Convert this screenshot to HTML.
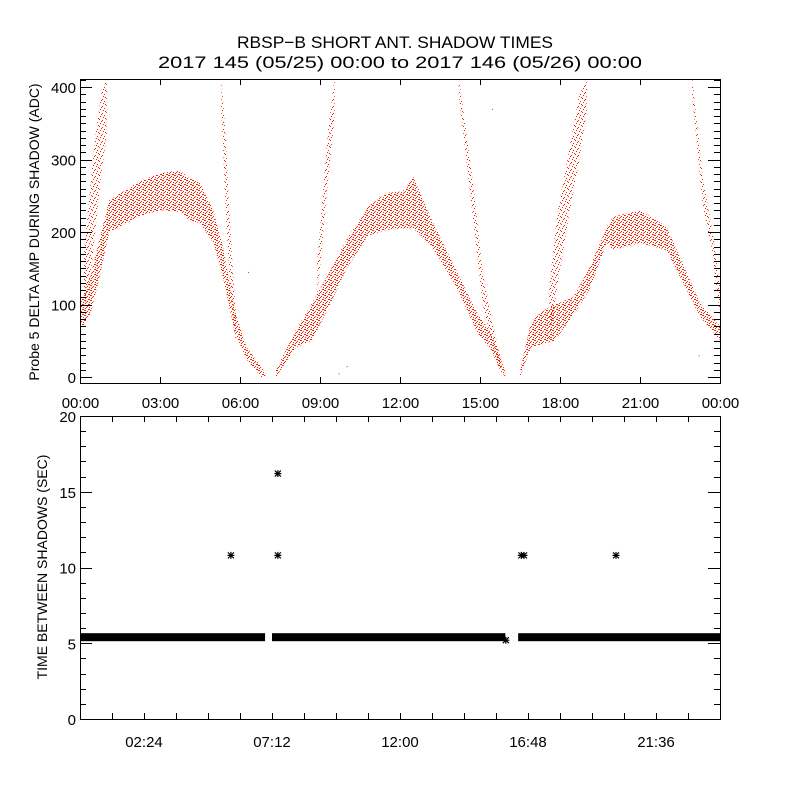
<!DOCTYPE html>
<html><head><meta charset="utf-8">
<style>
html,body{margin:0;padding:0;background:#fff;}
svg{display:block;font-family:"Liberation Sans",sans-serif;}
</style></head>
<body>
<svg id="chart" width="800" height="800" viewBox="0 0 800 800" xmlns="http://www.w3.org/2000/svg">
<defs>
<pattern id="dense" width="6" height="5" patternUnits="userSpaceOnUse">
<rect x="0" y="0" width="2" height="1" fill="#ff2000"/><rect x="3" y="1" width="1" height="1" fill="#ff2000"/>
<rect x="5" y="2" width="1" height="1" fill="#ff2000"/><rect x="1" y="3" width="1" height="1" fill="#ff2000"/>
<rect x="4" y="4" width="2" height="1" fill="#ff2000"/><rect x="2" y="2" width="1" height="1" fill="#ff2000"/>
</pattern>
<pattern id="sparse" width="7" height="7" patternUnits="userSpaceOnUse">
<rect x="1" y="0" width="1" height="1" fill="#ff2000"/><rect x="4" y="1" width="1" height="1" fill="#ff2000"/>
<rect x="6" y="3" width="1" height="1" fill="#ff2000"/><rect x="2" y="4" width="1" height="1" fill="#ff2000"/>
<rect x="5" y="5" width="1" height="1" fill="#ff2000"/><rect x="0" y="6" width="1" height="1" fill="#ff2000"/>
<rect x="3" y="2" width="1" height="1" fill="#ff2000"/>
</pattern>
<clipPath id="topclip"><rect x="80" y="79" width="640" height="304"/></clipPath>
</defs>
<text x="237" y="48" font-size="17" textLength="316" lengthAdjust="spacingAndGlyphs">RBSP−B SHORT ANT. SHADOW TIMES</text>
<text x="158" y="68" font-size="17" textLength="484" lengthAdjust="spacingAndGlyphs">2017 145 (05/25) 00:00 to 2017 146 (05/26) 00:00</text>
<g id="topPanel"></g>
<g id="botPanel"></g>
</svg>
<script>
// ---- top panel data: bands [hours], low/high ADC ----
const band1T=[0,0.4,0.75,1.1,2.25,3.0,3.75,4.1,4.5,5.0,5.36,5.8,6.25,6.8,6.95];
const band1Lo=[62,88,140,200,222,230,228,216,212,185,138,61,24,0,0];
const band1Hi=[100,140,193,244,270,281,285,274,268,230,180,92,41,14,5];
const band2T=[7.35,8.1,8.7,9.4,10.0,10.8,11.5,12.1,12.5,13.2,14.1,14.9,15.4,15.75,15.95];
const band2Lo=[0,41,50,102,150,195,203,205,205,180,125,61,38,10,0];
const band2Hi=[10,65,102,148,190,235,254,256,276,216,148,88,62,28,8];
const band3T=[16.5,16.9,17.3,17.8,18.5,19.1,19.75,20.0,21.0,22.0,22.5,23.25,24];
const band3Lo=[0,40,45,50,85,120,185,175,185,175,138,83,51];
const band3Hi=[8,75,90,100,110,150,207,221,230,207,165,102,70];
const steep1T=[0.15,0.4,0.6,0.8,1.0];
const steep1Lo=[95,140,210,280,330];
const steep1Hi=[170,270,340,390,415];
const steep2T=[5.3,5.45,5.6,5.75,5.85];
const steep2Lo=[370,240,140,75,45];
const steep2Hi=[415,340,230,140,85];
const steep3T=[8.9,9.1,9.3,9.55];
const steep3Lo=[110,190,270,360];
const steep3Hi=[160,250,340,415];
const steep4T=[14.2,14.75,15.1,15.5,15.8];
const steep4Lo=[390,215,100,40,5];
const steep4Hi=[415,265,145,70,22];
const steep5T=[17.6,17.9,18.3,18.7,19.0];
const steep5Lo=[40,125,215,295,365];
const steep5Hi=[125,225,305,385,415];
const steep6T=[22.95,23.36,23.7,24];
const steep6Lo=[390,235,175,85];
const steep6Hi=[415,275,205,125];
const strayT=[6.3,9.7,10.0,15.45,22.4,23.2];
const strayV=[145,5,15,370,150,30];
const topYTicks=[0,100,200,300,400];
const topXLabels=["00:00","03:00","06:00","09:00","12:00","15:00","18:00","21:00","00:00"];
// ---- bottom panel data ----
const segStart=[0,7.2,16.43];
const segEnd=[6.94,15.95,24];
const segValue=[5.4,5.4,5.4];
const outT=[5.66,7.42,7.42,15.97,16.55,16.65,20.1];
const outV=[10.8,16.2,10.8,5.2,10.8,10.8,10.8];
const botYTicks=[0,5,10,15,20];
const botXLabels=["02:24","07:12","12:00","16:48","21:36"];
const botXLabelHours=[2.4,7.2,12,16.8,21.6];

const NS="http://www.w3.org/2000/svg";
function mk(tag,attrs,parent){const e=document.createElementNS(NS,tag);for(const k in attrs)e.setAttribute(k,attrs[k]);parent.appendChild(e);return e;}
const X0=80,X1=720;
const xS=h=>X0+h/24*(X1-X0);
const yTop=v=>377-v*0.725;
const yBot=v=>719-v*15.15;
const topG=document.getElementById('topPanel'),botG=document.getElementById('botPanel');

// top bands
const bandsG=mk('g',{'clip-path':'url(#topclip)'},topG);


function band(T,Lo,Hi,fill,name){
  let pts=[];
  for(let i=0;i<T.length;i++)pts.push(xS(T[i]).toFixed(1)+','+yTop(Lo[i]).toFixed(1));
  for(let i=T.length-1;i>=0;i--)pts.push(xS(T[i]).toFixed(1)+','+yTop(Hi[i]).toFixed(1));
  const p=mk('polygon',{points:pts.join(' '),fill:fill},bandsG);
  
  
}
band(band1T,band1Lo,band1Hi,'url(#dense)','shadow-band-1');
band(band2T,band2Lo,band2Hi,'url(#dense)','shadow-band-2');
band(band3T,band3Lo,band3Hi,'url(#dense)','shadow-band-3');
band(steep1T,steep1Lo,steep1Hi,'url(#sparse)','steep-track-1');
band(steep2T,steep2Lo,steep2Hi,'url(#sparse)','steep-track-2');
band(steep3T,steep3Lo,steep3Hi,'url(#sparse)','steep-track-3');
band(steep4T,steep4Lo,steep4Hi,'url(#sparse)','steep-track-4');
band(steep5T,steep5Lo,steep5Hi,'url(#sparse)','steep-track-5');
band(steep6T,steep6Lo,steep6Hi,'url(#sparse)','steep-track-6');
for(let i=0;i<strayT.length;i++){
  const r=mk('rect',{x:xS(strayT[i]).toFixed(1),y:yTop(strayV[i]).toFixed(1),width:1,height:1,fill:'#ff2000'},bandsG);
  
  
}

// top axes
const tf=mk('rect',{x:80.5,y:79.5,width:640,height:304,fill:'none',stroke:'#000','stroke-width':1},topG);


for(let v=0;v<=410;v+=10){
  const major=v%100===0,len=major?12:6,y=Math.round(yTop(v))+0.5;
  mk('line',{x1:80,x2:80+len,y1:y,y2:y,stroke:'#000'},topG);
  mk('line',{x1:720,x2:720-len,y1:y,y2:y,stroke:'#000'},topG);
}
topYTicks.forEach(v=>{
  const t=mk('text',{x:76,y:yTop(v)+6,'font-size':15,'text-anchor':'end'},topG);
  t.textContent=v;
  
  
});
topXLabels.forEach((s,i)=>{
  const x=Math.round(xS(i*3))+0.5;
  mk('line',{x1:x,x2:x,y1:383,y2:377,stroke:'#000'},topG);
  mk('line',{x1:x,x2:x,y1:79,y2:85,stroke:'#000'},topG);
  const t=mk('text',{x:x,y:408,'font-size':15,'text-anchor':'middle'},topG);
  t.textContent=s;
  
  
});
const yt=mk('text',{x:0,y:0,'font-size':14,'text-anchor':'middle',transform:'translate(39,232) rotate(-90)'},topG);
yt.textContent='Probe 5 DELTA AMP DURING SHADOW (ADC)';



// bottom panel
const segG=mk('g',{},botG);


for(let i=0;i<segStart.length;i++){
  const r=mk('rect',{x:xS(segStart[i]),y:yBot(segValue[i])-4,width:xS(segEnd[i])-xS(segStart[i]),height:8,fill:'#000'},segG);
  
  
}
for(let i=0;i<outT.length;i++){
  const x=xS(outT[i]),y=yBot(outV[i]);
  const g=mk('g',{stroke:'#000','stroke-width':1.2},segG);
  
  
  mk('line',{x1:x-3.5,x2:x+3.5,y1:y,y2:y},g);
  mk('line',{x1:x,x2:x,y1:y-3.5,y2:y+3.5},g);
  mk('line',{x1:x-3,x2:x+3,y1:y-3,y2:y+3},g);
  mk('line',{x1:x-3,x2:x+3,y1:y+3,y2:y-3},g);
}
const bf=mk('rect',{x:80.5,y:416.5,width:640,height:303,fill:'none',stroke:'#000','stroke-width':1},botG);


for(let v=0;v<=20;v++){
  const major=v%5===0,len=major?12:6,y=Math.round(yBot(v))+0.5;
  mk('line',{x1:80,x2:80+len,y1:y,y2:y,stroke:'#000'},botG);
  mk('line',{x1:720,x2:720-len,y1:y,y2:y,stroke:'#000'},botG);
}
botYTicks.forEach(v=>{
  const t=mk('text',{x:76,y:yBot(v)+6,'font-size':15,'text-anchor':'end'},botG);
  t.textContent=v;
  
  
});
for(let k=1;k<20;k++){
  const x=Math.round(xS(k*1.2))+0.5;
  mk('line',{x1:x,x2:x,y1:719,y2:713,stroke:'#000'},botG);
  mk('line',{x1:x,x2:x,y1:416,y2:422,stroke:'#000'},botG);
}
botXLabels.forEach((s,i)=>{
  const t=mk('text',{x:xS(botXLabelHours[i]),y:747,'font-size':15,'text-anchor':'middle'},botG);
  t.textContent=s;
  
  
});
const by=mk('text',{x:0,y:0,'font-size':14,'text-anchor':'middle',transform:'translate(47,567) rotate(-90)'},botG);
by.textContent='TIME BETWEEN SHADOWS (SEC)';


</script>
</body></html>
